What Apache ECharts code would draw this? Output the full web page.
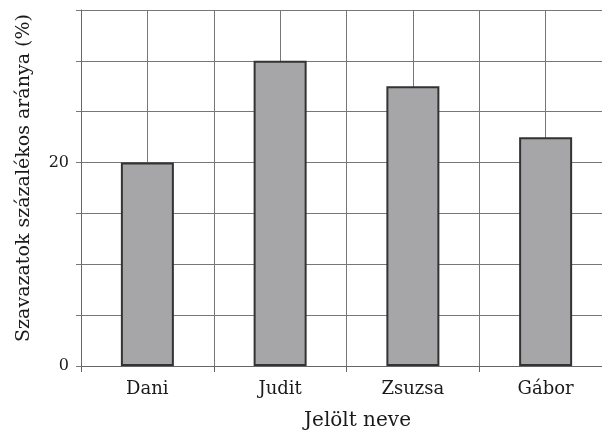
<!DOCTYPE html>
<html>
<head>
<meta charset="utf-8">
<script src="https://cdn.jsdelivr.net/npm/echarts@6/dist/echarts.min.js"></script>
<style>
html,body{margin:0;padding:0;background:#fff;}
#c{width:602px;height:432px;}
</style>
</head>
<body>
<div id="c"></div>
<script>
const categories = ['Dani', 'Judit', 'Zsuzsa', 'Gábor'];
const values = [20, 30, 27.5, 22.5];
const yLabeled = [0, 20];

const FONT = '"DejaVu Serif", "Liberation Serif", serif';
const chart = echarts.init(document.getElementById('c'), null, {renderer: 'canvas'});
chart.setOption({
  animation: false,
  backgroundColor: '#fff',
  grid: {left: 81, right: -10, top: 10, bottom: 66, containLabel: false, outerBoundsMode: 'none'},
  xAxis: [{
    type: 'category',
    data: categories,
    boundaryGap: true,
    name: 'Jelölt neve',
    nameLocation: 'middle',
    nameGap: 45,
    nameTextStyle: {fontFamily: FONT, fontSize: 20, color: '#1a1a1a', padding: [0, 0, 0, 22]},
    axisLine: {show: true, lineStyle: {color: '#666', width: 1}},
    axisTick: {show: true, length: 6, lineStyle: {color: '#666'}},
    axisLabel: {fontFamily: FONT, fontSize: 18, color: '#1a1a1a', margin: 14},
    splitLine: {show: false}
  }, {
    type: 'value',
    min: 0, max: 8, interval: 1,
    position: 'bottom',
    axisLine: {show: false},
    axisTick: {show: false},
    axisLabel: {show: false},
    splitLine: {show: true, lineStyle: {color: '#777', width: 1}}
  }],
  yAxis: {
    type: 'value',
    min: 0, max: 35, interval: 5,
    name: 'Szavazatok százalékos aránya (%)',
    nameLocation: 'middle',
    nameRotate: 90,
    nameGap: 47,
    nameTextStyle: {fontFamily: FONT, fontSize: 19, color: '#1a1a1a', padding: [0, 0, 0, 20]},
    axisLine: {show: true, lineStyle: {color: '#666', width: 1}},
    axisTick: {show: true, length: 5, lineStyle: {color: '#777'}},
    axisLabel: {
      fontFamily: FONT, fontSize: 16, color: '#1a1a1a', margin: 12,
      formatter: v => yLabeled.includes(v) ? String(v) : ''
    },
    splitLine: {show: true, lineStyle: {color: '#777', width: 1}}
  },
  series: [{
    type: 'bar',
    xAxisIndex: 0,
    data: values,
    barWidth: 53,
    itemStyle: {color: '#a6a6a8', borderColor: '#333', borderWidth: 2},
    z: 3
  }]
});
</script>
</body>
</html>
